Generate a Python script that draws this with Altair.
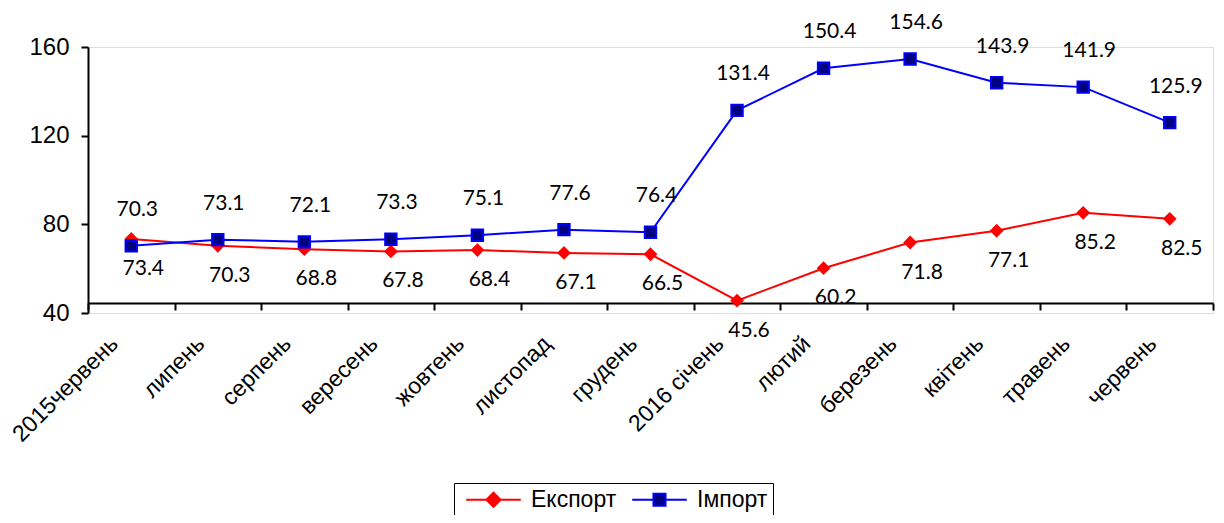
import altair as alt
import pandas as pd

months = ["2015червень", "липень", "серпень", "вересень", "жовтень", "листопад",
          "грудень", "2016 січень", "лютий", "березень", "квітень", "травень", "червень"]
export_vals = [73.4, 70.3, 68.8, 67.8, 68.4, 67.1, 66.5, 45.6, 60.2, 71.8, 77.1, 85.2, 82.5]
import_vals = [70.3, 73.1, 72.1, 73.3, 75.1, 77.6, 76.4, 131.4, 150.4, 154.6, 143.9, 141.9, 125.9]
series_names = ["Експорт", "Імпорт"]
y_ticks = [40, 80, 120, 160]

rows = []
for i, m in enumerate(months):
    rows.append({"month": m, "series": series_names[0], "value": export_vals[i]})
    rows.append({"month": m, "series": series_names[1], "value": import_vals[i]})
df = pd.DataFrame(rows)

RED = "#FF0000"
BLUE = "#0000FF"
NAVY = "#000080"
AXIS_FONT = "Liberation Sans"
LABEL_FONT = "Lato"

x = alt.X("month:N", sort=months,
          scale=alt.Scale(type="band", paddingInner=0, paddingOuter=0),
          axis=alt.Axis(title=None, labelAngle=-45, labelFontSize=23, labelFont=AXIS_FONT,
                        labelColor="black", domainColor="black", domainWidth=2,
                        tickColor="black", tickWidth=2, tickSize=7, tickBand="extent",
                        offset=-10, labelPadding=22, labelOffset=-25, grid=False,
                        labelOverlap=False))
y = alt.Y("value:Q", scale=alt.Scale(domain=[40, 160], nice=False, zero=False),
          axis=alt.Axis(title=None, values=y_ticks, labelFontSize=24, labelFont=AXIS_FONT,
                        labelColor="black", domainColor="black", domainWidth=2,
                        tickColor="black", tickWidth=2, tickSize=7, labelPadding=12, grid=False))

base = alt.Chart(df).encode(x=x, y=y)
exp = base.transform_filter(alt.datum.series == series_names[0])
imp = base.transform_filter(alt.datum.series == series_names[1])

exp_line = exp.mark_line(color=RED, strokeWidth=2)
exp_pts = exp.mark_point(shape="diamond", filled=True, size=190, color=RED, opacity=1)
imp_line = imp.mark_line(color=BLUE, strokeWidth=2)
imp_pts = imp.mark_square(fill=NAVY, stroke=BLUE, strokeWidth=2, size=130, opacity=1)

exp_txt = exp.mark_text(dx=12, dy=30, font=LABEL_FONT, fontSize=21, color="black").encode(
    text=alt.Text("value:Q", format=".1f"))
imp_txt = imp.mark_text(dx=6, dy=-36, font=LABEL_FONT, fontSize=21, color="black").encode(
    text=alt.Text("value:Q", format=".1f"))

diamond_path = "M-3.9,0H3.9M0,-1L1,0L0,1L-1,0Z"
square_path = "M-3.9,0H-0.86M0.86,0H3.9M-0.86,-0.86H0.86V0.86H-0.86Z"

leg = alt.Legend(title=None, orient="none", legendX=366, legendY=436, direction="horizontal",
                 strokeColor="black", fillColor="white", padding=5,
                 labelFont=AXIS_FONT, labelFontSize=23, labelColor="black",
                 symbolSize=196, symbolStrokeWidth=2, symbolOffset=23, labelOffset=26,
                 columnPadding=8, symbolOpacity=1)

legend_layer = base.mark_point(filled=True, opacity=0).encode(
    fill=alt.Fill("series:N", scale=alt.Scale(domain=series_names, range=[RED, NAVY]), legend=leg),
    stroke=alt.Stroke("series:N", scale=alt.Scale(domain=series_names, range=[RED, BLUE]), legend=leg),
    shape=alt.Shape("series:N", scale=alt.Scale(domain=series_names, range=[diamond_path, square_path]), legend=leg),
)

chart = alt.layer(exp_line, exp_pts, imp_line, imp_pts, exp_txt, imp_txt, legend_layer).properties(
    width=1125, height=266,
    autosize=alt.AutoSizeParams(type="none"),
    padding={"left": 80, "top": 39, "right": 3, "bottom": 202},
).configure_view(stroke=None).configure(background="white")

chart.save("out.html", embed_options={"renderer": "svg", "actions": False})
